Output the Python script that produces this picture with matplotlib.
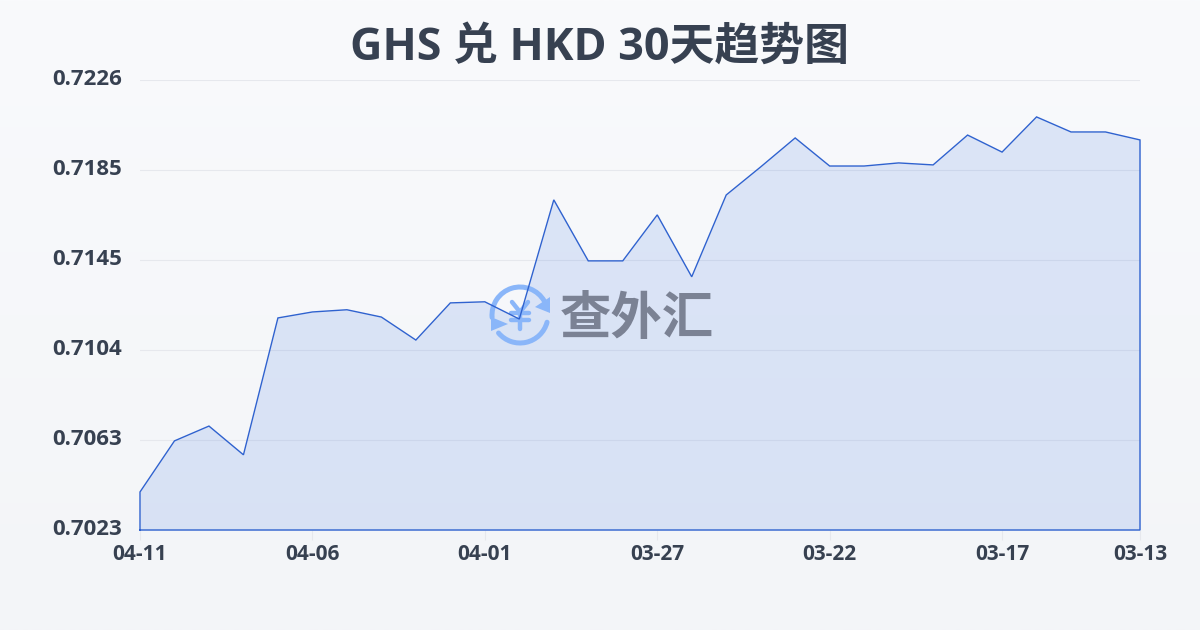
"""GHS / HKD 30 day trend chart."""

import matplotlib
matplotlib.use("Agg")

import matplotlib.pyplot as plt
import numpy as np
from matplotlib.patches import Arc, Polygon
from matplotlib.transforms import ScaledTranslation

plt.rcParams["font.family"] = ["Open Sans", "Noto Sans CJK SC", "DejaVu Sans"]

title = "GHS 兑 HKD 30天趋势图"
watermark = "查外汇"

dates = [
    "04-11", "04-10", "04-09", "04-08", "04-07", "04-06", "04-05", "04-04",
    "04-03", "04-02", "04-01", "03-31", "03-30", "03-29", "03-28", "03-27",
    "03-26", "03-25", "03-24", "03-23", "03-22", "03-21", "03-20", "03-19",
    "03-18", "03-17", "03-16", "03-15", "03-14", "03-13",
]
rates = [
    0.70398, 0.70629, 0.70696, 0.70566, 0.71185, 0.71212, 0.71222, 0.71189,
    0.71085, 0.71253, 0.71258, 0.71180, 0.71719, 0.71443, 0.71443, 0.71651,
    0.71371, 0.71741, 0.71868, 0.71999, 0.71872, 0.71872, 0.71886, 0.71877,
    0.72012, 0.71935, 0.72094, 0.72026, 0.72026, 0.71990,
]
y_ticks = [0.70226, 0.70633, 0.7104, 0.71447, 0.71854, 0.72261]
x_tick_dates = ["04-11", "04-06", "04-01", "03-27", "03-22", "03-17", "03-13"]

TEXT = "#374151"
LINE = "#2f62cf"
LOGO = "#8ab6f9"

fig = plt.figure(figsize=(12, 6.3), dpi=100)

# page background gradient
bg = fig.add_axes([0, 0, 1, 1], zorder=0)
bg.imshow(np.linspace(0, 1, 256).reshape(-1, 1), aspect="auto", extent=(0, 1, 0, 1),
          cmap=matplotlib.colors.LinearSegmentedColormap.from_list("page", ["#f9fafc", "#f3f5f8"]))
bg.axis("off")

ax = fig.add_axes([140 / 1200, 100 / 630, 1000 / 1200, 450 / 630], zorder=1)
ax.patch.set_alpha(0)

x = np.arange(len(rates))
ax.fill_between(x, rates, y_ticks[0], color="#3b74e0", alpha=0.15, lw=0, zorder=2)

ax.set_xlim(0, len(rates) - 1)
ax.set_ylim(y_ticks[0], y_ticks[-1])
ax.set_yticks(y_ticks, [f"{v:.4f}" for v in y_ticks])
ax.set_xticks([dates.index(d) for d in x_tick_dates], x_tick_dates)
ax.grid(axis="y", color="#e6e8ed", lw=0.8, zorder=1)
ax.tick_params(axis="y", length=0, pad=13, labelsize=16, labelcolor=TEXT)
ax.tick_params(axis="x", length=7, width=0.8, color="#e6e8ed", pad=3, labelsize=15, labelcolor=TEXT)
for lab in ax.get_yticklabels() + ax.get_xticklabels():
    lab.set_fontweight("bold")
# the y labels sit a little above their grid lines
for lab in ax.get_yticklabels():
    lab.set_transform(lab.get_transform() + ScaledTranslation(0, 2 / 72, fig.dpi_scale_trans))
for spine in ax.spines.values():
    spine.set_visible(False)

# watermark, in pixel coordinates
wm = fig.add_axes([0, 0, 1, 1], zorder=2)
wm.axis("off")
wm.add_patch(Arc((520, 315), 56, 56, theta1=175, theta2=330, color=LOGO, lw=3.6, capstyle="round"))
wm.add_patch(Arc((520, 315), 56, 56, theta1=15, theta2=140, color=LOGO, lw=3.6, capstyle="round"))
wm.add_patch(Polygon([(550, 297), (550, 313), (535, 307)], color=LOGO, lw=0))
wm.add_patch(Polygon([(491, 317), (491, 331), (508, 324)], color=LOGO, lw=0))
# yen sign drawn by strokes so it keeps the logo's round look
wm.plot([512, 520, 528], [302, 312, 302], color=LOGO, lw=3.2, solid_capstyle="round")
wm.plot([511, 529], [313, 313], color=LOGO, lw=3.2, solid_capstyle="round")
wm.plot([511, 529], [320, 320], color=LOGO, lw=3.2, solid_capstyle="round")
wm.plot([520, 520], [312, 329], color=LOGO, lw=3.2, solid_capstyle="round")
wm.text(636.5, 321, watermark, fontsize=37, fontweight="bold", color="#7b8294", ha="center", va="center")
wm.set_xlim(0, 1200)
wm.set_ylim(630, 0)

# line and closed outline go above the watermark
top = fig.add_axes(ax.get_position(), zorder=3, sharex=ax, sharey=ax)
top.axis("off")
top.plot(np.r_[x[0], x, x[-1], x[0]], np.r_[y_ticks[0], rates, y_ticks[0], y_ticks[0]],
         color=LINE, lw=1.0, clip_on=False, solid_joinstyle="miter")

fig.text(0.5, 1 - 48 / 630, title, fontsize=32.3, fontweight="bold", color=TEXT, ha="center", va="center")

fig.savefig("out.png", dpi=100)
